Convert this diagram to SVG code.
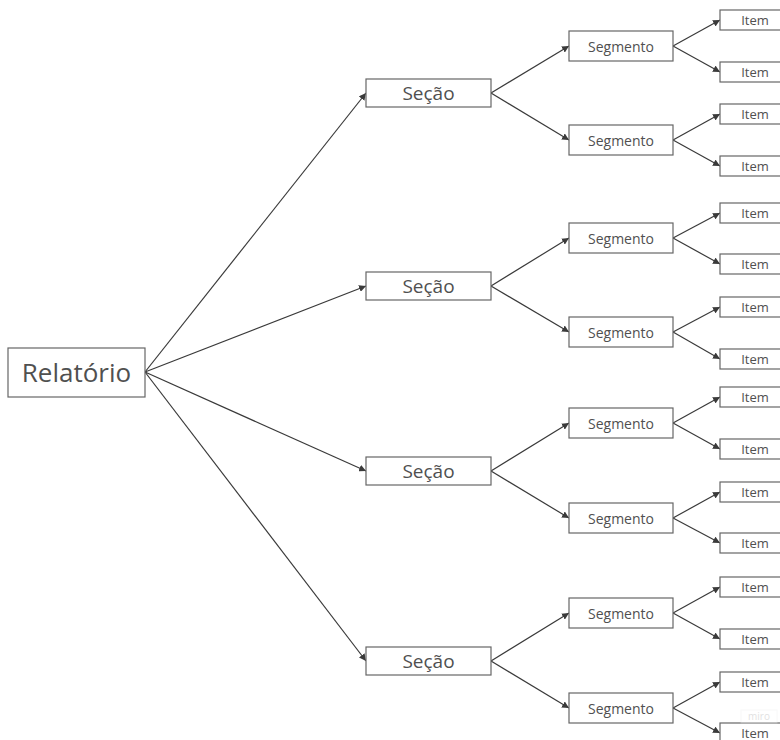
<svg xmlns="http://www.w3.org/2000/svg" width="780" height="740" viewBox="0 0 780 740">
  <defs>
    <marker id="arrow" viewBox="0 0 10 10" refX="10" refY="5" markerWidth="7" markerHeight="7" markerUnits="userSpaceOnUse" orient="auto">
      <path d="M0,0 L10,5 L0,10 Z" fill="#3a3a3a"/>
    </marker>
  </defs>
  <style>
    .box { fill: #ffffff; stroke: #666666; stroke-width: 1.2; }
    .lbl { font-family: "Open Sans", "Liberation Sans", sans-serif; fill: #505050; text-anchor: middle; dominant-baseline: central; }
    .root { font-size: 26px; }
    .sec { font-size: 19px; }
    .seg { font-size: 14px; }
    .item { font-size: 13px; }
    .edge { stroke: #3a3a3a; stroke-width: 1.2; fill: none; marker-end: url(#arrow); }
  </style>
  <rect width="780" height="740" fill="#ffffff"/>

  <!-- connectors -->
  <g id="connectors">
    <!-- report to sections -->
    <line class="edge" x1="145" y1="372" x2="366" y2="93"/>
    <line class="edge" x1="145" y1="372" x2="366" y2="286"/>
    <line class="edge" x1="145" y1="372" x2="366" y2="471"/>
    <line class="edge" x1="145" y1="372" x2="366" y2="661"/>
    <!-- sections to segments -->
    <line class="edge" x1="491" y1="93" x2="569" y2="46"/>
    <line class="edge" x1="491" y1="93" x2="569" y2="140"/>
    <line class="edge" x1="491" y1="286" x2="569" y2="238"/>
    <line class="edge" x1="491" y1="286" x2="569" y2="332"/>
    <line class="edge" x1="491" y1="471" x2="569" y2="423"/>
    <line class="edge" x1="491" y1="471" x2="569" y2="518"/>
    <line class="edge" x1="491" y1="661" x2="569" y2="613"/>
    <line class="edge" x1="491" y1="661" x2="569" y2="708"/>
    <!-- segments to items -->
    <line class="edge" x1="673" y1="46" x2="720" y2="20"/>
    <line class="edge" x1="673" y1="46" x2="720" y2="72"/>
    <line class="edge" x1="673" y1="140" x2="720" y2="114"/>
    <line class="edge" x1="673" y1="140" x2="720" y2="166"/>
    <line class="edge" x1="673" y1="238" x2="720" y2="213"/>
    <line class="edge" x1="673" y1="238" x2="720" y2="264"/>
    <line class="edge" x1="673" y1="332" x2="720" y2="307"/>
    <line class="edge" x1="673" y1="332" x2="720" y2="359"/>
    <line class="edge" x1="673" y1="423" x2="720" y2="397"/>
    <line class="edge" x1="673" y1="423" x2="720" y2="449"/>
    <line class="edge" x1="673" y1="518" x2="720" y2="492"/>
    <line class="edge" x1="673" y1="518" x2="720" y2="543"/>
    <line class="edge" x1="673" y1="613" x2="720" y2="587"/>
    <line class="edge" x1="673" y1="613" x2="720" y2="639"/>
    <line class="edge" x1="673" y1="708" x2="720" y2="682"/>
    <line class="edge" x1="673" y1="708" x2="720" y2="733"/>
  </g>

  <!-- root -->
  <g id="relatorio">
    <rect class="box" x="8" y="348" width="137" height="49"/>
    <text class="lbl root" x="76.5" y="372">Relatório</text>
  </g>

  <!-- sections -->
  <g id="secao-1"><rect class="box" x="366" y="79" width="125" height="28"/><text class="lbl sec" x="428.5" y="93">Seção</text></g>
  <g id="secao-2"><rect class="box" x="366" y="272" width="125" height="28"/><text class="lbl sec" x="428.5" y="286">Seção</text></g>
  <g id="secao-3"><rect class="box" x="366" y="457" width="125" height="28"/><text class="lbl sec" x="428.5" y="471">Seção</text></g>
  <g id="secao-4"><rect class="box" x="366" y="647" width="125" height="28"/><text class="lbl sec" x="428.5" y="661">Seção</text></g>

  <!-- segments -->
  <g id="segmento-1"><rect class="box" x="569" y="31" width="104" height="30"/><text class="lbl seg" x="621" y="46">Segmento</text></g>
  <g id="segmento-2"><rect class="box" x="569" y="125" width="104" height="30"/><text class="lbl seg" x="621" y="140">Segmento</text></g>
  <g id="segmento-3"><rect class="box" x="569" y="223" width="104" height="30"/><text class="lbl seg" x="621" y="238">Segmento</text></g>
  <g id="segmento-4"><rect class="box" x="569" y="317" width="104" height="30"/><text class="lbl seg" x="621" y="332">Segmento</text></g>
  <g id="segmento-5"><rect class="box" x="569" y="408" width="104" height="30"/><text class="lbl seg" x="621" y="423">Segmento</text></g>
  <g id="segmento-6"><rect class="box" x="569" y="503" width="104" height="30"/><text class="lbl seg" x="621" y="518">Segmento</text></g>
  <g id="segmento-7"><rect class="box" x="569" y="598" width="104" height="30"/><text class="lbl seg" x="621" y="613">Segmento</text></g>
  <g id="segmento-8"><rect class="box" x="569" y="693" width="104" height="30"/><text class="lbl seg" x="621" y="708">Segmento</text></g>

  <!-- items -->
  <g id="item-1"><rect class="box" x="720" y="10" width="70" height="20"/><text class="lbl item" x="755" y="20">Item</text></g>
  <g id="item-2"><rect class="box" x="720" y="62" width="70" height="20"/><text class="lbl item" x="755" y="72">Item</text></g>
  <g id="item-3"><rect class="box" x="720" y="104" width="70" height="20"/><text class="lbl item" x="755" y="114">Item</text></g>
  <g id="item-4"><rect class="box" x="720" y="156" width="70" height="20"/><text class="lbl item" x="755" y="166">Item</text></g>
  <g id="item-5"><rect class="box" x="720" y="203" width="70" height="20"/><text class="lbl item" x="755" y="213">Item</text></g>
  <g id="item-6"><rect class="box" x="720" y="254" width="70" height="20"/><text class="lbl item" x="755" y="264">Item</text></g>
  <g id="item-7"><rect class="box" x="720" y="297" width="70" height="20"/><text class="lbl item" x="755" y="307">Item</text></g>
  <g id="item-8"><rect class="box" x="720" y="349" width="70" height="20"/><text class="lbl item" x="755" y="359">Item</text></g>
  <g id="item-9"><rect class="box" x="720" y="387" width="70" height="20"/><text class="lbl item" x="755" y="397">Item</text></g>
  <g id="item-10"><rect class="box" x="720" y="439" width="70" height="20"/><text class="lbl item" x="755" y="449">Item</text></g>
  <g id="item-11"><rect class="box" x="720" y="482" width="70" height="20"/><text class="lbl item" x="755" y="492">Item</text></g>
  <g id="item-12"><rect class="box" x="720" y="533" width="70" height="20"/><text class="lbl item" x="755" y="543">Item</text></g>
  <g id="item-13"><rect class="box" x="720" y="577" width="70" height="20"/><text class="lbl item" x="755" y="587">Item</text></g>
  <g id="item-14"><rect class="box" x="720" y="629" width="70" height="20"/><text class="lbl item" x="755" y="639">Item</text></g>
  <g id="item-15"><rect class="box" x="720" y="672" width="70" height="20"/><text class="lbl item" x="755" y="682">Item</text></g>
  <g id="item-16"><rect class="box" x="720" y="723" width="70" height="20"/><text class="lbl item" x="755" y="733">Item</text></g>

  <!-- faint board watermark -->
  <g id="watermark" opacity="0.35">
    <rect x="741" y="710" width="36" height="13" fill="#ffffff" stroke="#eeeeee" stroke-width="1"/>
    <text x="759" y="716" font-family="'Open Sans', 'Liberation Sans', sans-serif" font-size="10" fill="#aaaaaa" text-anchor="middle" dominant-baseline="central">miro</text>
  </g>
</svg>
